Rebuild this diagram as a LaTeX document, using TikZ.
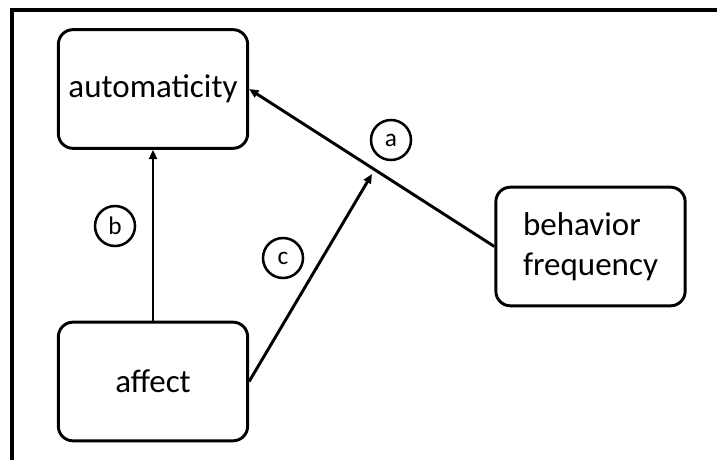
\documentclass[tikz,border=0pt]{standalone}
\usepackage{fontspec}
\setmainfont{Carlito}
\usetikzlibrary{arrows.meta}
\begin{document}
\begin{tikzpicture}[x=0.75pt,y=-0.75pt,
  box/.style={draw, line width=2.2pt, rounded corners=11pt, minimum width=142pt, minimum height=89pt, inner sep=0pt, font=\fontsize{24.75}{30}\selectfont},
  lbl/.style={draw, circle, line width=1.9pt, minimum size=30pt, inner sep=0pt, font=\fontsize{19}{22}\selectfont},
  arr/.style={line width=2.2pt, -{Triangle[length=7pt,width=6pt]}},
  frame/.style={line width=3pt}]
\useasboundingbox (0,0) rectangle (717,460);
\draw[frame] (12,460) -- (12,10) -- (717,10);
\node[box] (auto) at (153,89) {automaticity};
\node[box] (aff) at (153,381.5) {affect};
\node[box, align=left] (bf) at (590.5,246.5) {behavior\\frequency};
\coordinate (mid) at (372,174);
\draw[arr] (bf.west) -- (auto.east);
\draw[arr] (aff.north) -- (auto.south);
\draw[arr] (aff.east) -- (mid);
\node[lbl] (la) at (391,140) {a};
\node[lbl] (lb) at (115,226) {b};
\node[lbl] (lc) at (283,258) {c};
\end{tikzpicture}
\end{document}
